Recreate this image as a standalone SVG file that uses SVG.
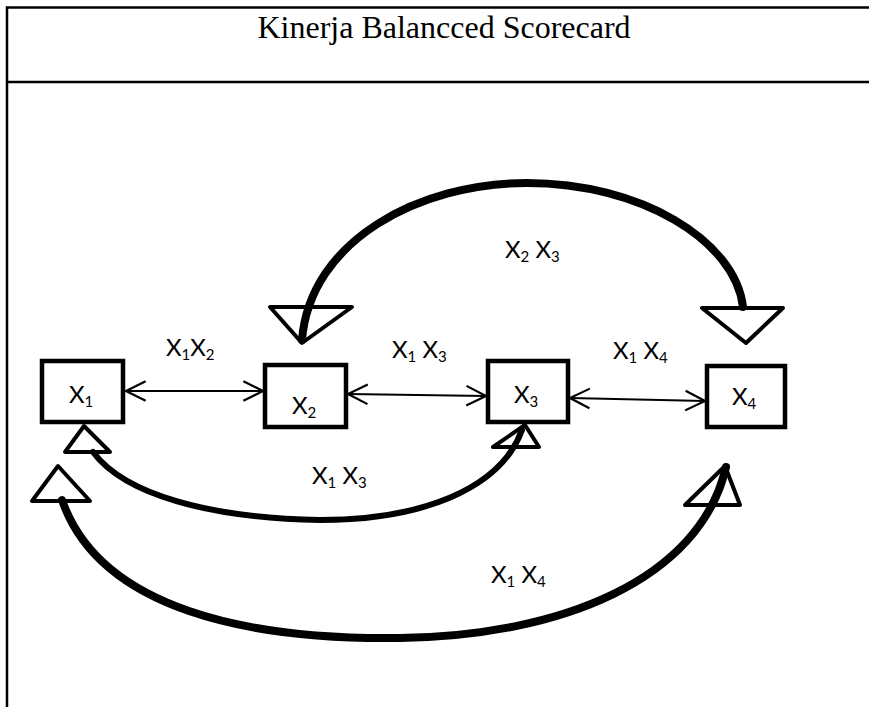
<svg xmlns="http://www.w3.org/2000/svg" width="869" height="707" viewBox="0 0 869 707">
  <style>
    .frame { stroke: #000; stroke-width: 2.5; fill: none; }
    .box { fill: #fff; stroke: #000; stroke-width: 4.5; }
    .lbl { font-family: Lato, "Open Sans", sans-serif; font-size: 24px; fill: #000; }
    .sub { font-size: 15px; }
    .title { font-family: "Liberation Serif", "Times New Roman", serif; font-size: 32px; fill: #000; }
    .link { stroke: #000; stroke-width: 2; fill: none; }
    .curve { stroke: #000; fill: none; stroke-linecap: round; }
    .tri { fill: #fff; stroke: #000; stroke-width: 4; stroke-linejoin: round; }
  </style>
  <defs>
    <marker id="chev" markerUnits="userSpaceOnUse" markerWidth="24" markerHeight="24" viewBox="-20 -11 22 22" refX="0" refY="0" orient="auto-start-reverse">
      <path d="M -18,-9 L 0,0 L -18,9" fill="none" stroke="#000" stroke-width="2"/>
    </marker>
  </defs>
  <rect width="869" height="707" fill="#fff"/>
  <g id="frame">
    <path class="frame" d="M 7,707 L 7,7.5 L 869,7.5 M 6,82 L 869,82"/>
    <text class="title" x="444" y="38" text-anchor="middle">Kinerja Balancced Scorecard</text>
  </g>
  <g id="connectors">
    <line class="link" x1="126" y1="391" x2="263" y2="391" marker-start="url(#chev)" marker-end="url(#chev)"/>
    <line class="link" x1="348" y1="394" x2="486" y2="396" marker-start="url(#chev)" marker-end="url(#chev)"/>
    <line class="link" x1="570" y1="398" x2="705" y2="401" marker-start="url(#chev)" marker-end="url(#chev)"/>
    <polygon class="tri" points="270,307 352,307 302,343"/>
    <polygon class="tri" points="702,308 783,308 746,343"/>
    <polygon class="tri" points="84,426 65,452 110,452"/>
    <polygon class="tri" points="525,425 493,447 539,447"/>
    <polygon class="tri" points="58,466 32,501 90,501"/>
    <polygon class="tri" points="725,466 685,505 740,505"/>
    <path class="curve" stroke-width="8" d="M 302,340 C 310,240 420,183 527,183 C 640,183 735,240 743,307"/>
    <path class="curve" stroke-width="6" d="M 93,452 C 125,495 210,518 320,520 C 420,520 500,490 522,430"/>
    <path class="curve" stroke-width="8" d="M 62,500 C 100,610 250,640 400,638 C 560,636 700,580 726,467"/>
    <text class="lbl" x="166" y="356">X<tspan class="sub" dy="4">1</tspan><tspan dy="-4">X</tspan><tspan class="sub" dy="4">2</tspan></text>
    <text class="lbl" x="392" y="358">X<tspan class="sub" dy="4">1</tspan><tspan dy="-4"> X</tspan><tspan class="sub" dy="4">3</tspan></text>
    <text class="lbl" x="613" y="359">X<tspan class="sub" dy="4">1</tspan><tspan dy="-4"> X</tspan><tspan class="sub" dy="4">4</tspan></text>
    <text class="lbl" x="505" y="258">X<tspan class="sub" dy="4">2</tspan><tspan dy="-4"> X</tspan><tspan class="sub" dy="4">3</tspan></text>
    <text class="lbl" x="312" y="484">X<tspan class="sub" dy="4">1</tspan><tspan dy="-4"> X</tspan><tspan class="sub" dy="4">3</tspan></text>
    <text class="lbl" x="491" y="583">X<tspan class="sub" dy="4">1</tspan><tspan dy="-4"> X</tspan><tspan class="sub" dy="4">4</tspan></text>
  </g>
  <g id="node-x1">
    <rect class="box" x="42" y="361" width="81" height="61"/>
    <text class="lbl" x="69" y="403">X<tspan class="sub" dy="4">1</tspan></text>
  </g>
  <g id="node-x2">
    <rect class="box" x="265" y="365" width="81" height="62"/>
    <text class="lbl" x="292" y="414">X<tspan class="sub" dy="4">2</tspan></text>
  </g>
  <g id="node-x3">
    <rect class="box" x="488" y="361" width="80" height="61"/>
    <text class="lbl" x="514" y="403">X<tspan class="sub" dy="4">3</tspan></text>
  </g>
  <g id="node-x4">
    <rect class="box" x="707" y="366" width="78" height="61"/>
    <text class="lbl" x="732" y="405">X<tspan class="sub" dy="4">4</tspan></text>
  </g>
</svg>
